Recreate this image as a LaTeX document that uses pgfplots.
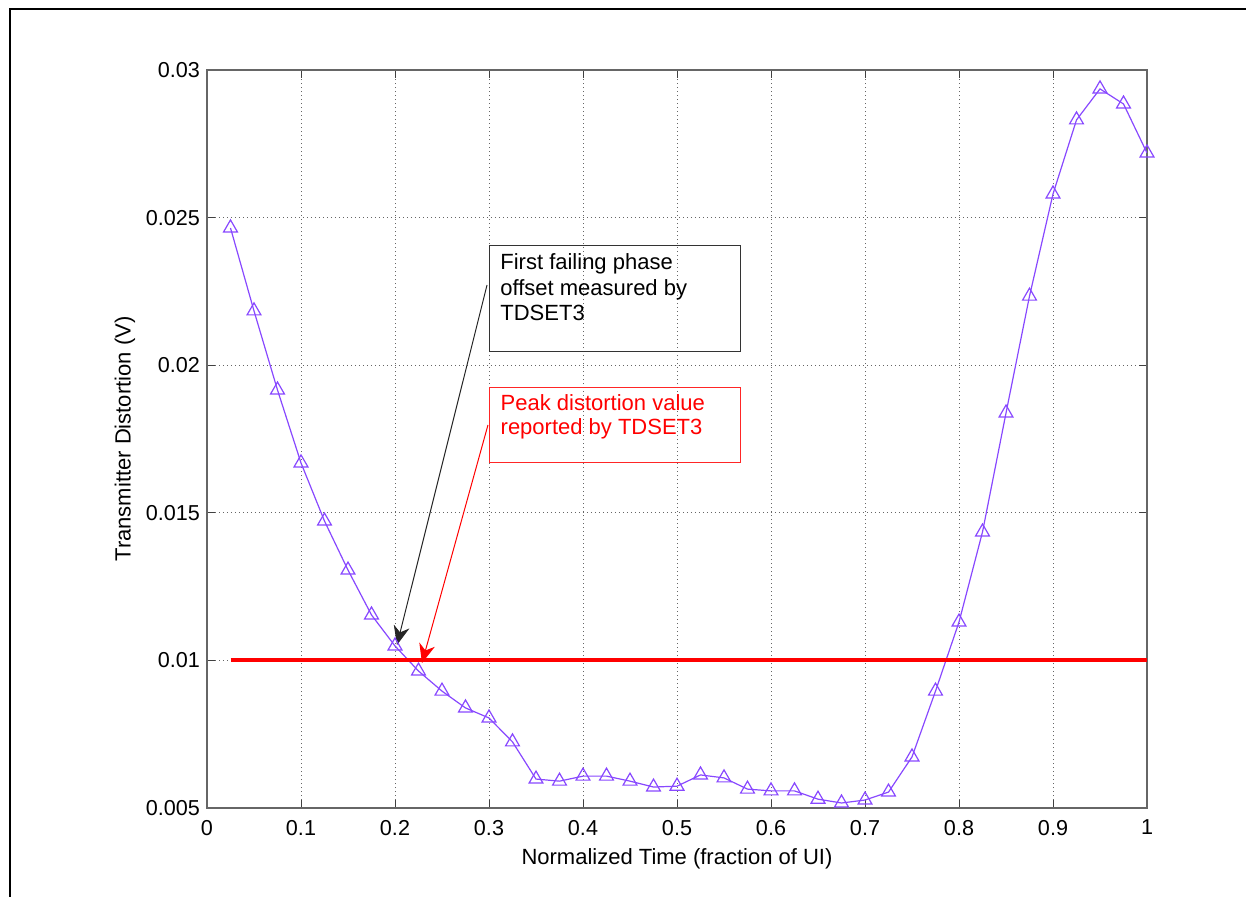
\documentclass[border=0pt]{standalone}
\usepackage{pgfplots}
\pgfplotsset{compat=1.18}
\usepackage{fontspec}
\setmainfont{Liberation Sans}
\usetikzlibrary{arrows.meta}
\definecolor{lineviolet}{RGB}{136,72,255}

\begin{document}
\begin{tikzpicture}
\useasboundingbox (0,0) rectangle (623bp,-448.5bp);
% frame around the figure
\draw[line width=1.1bp] (5bp,-449bp) -- (5bp,-4.5bp) -- (624bp,-4.5bp);

\begin{axis}[
  at={(103.5bp,-404bp)}, anchor=south west,
  scale only axis, width=470bp, height=369bp,
  xmin=0, xmax=1, ymin=0.005, ymax=0.03,
  xtick={0,0.1,0.2,0.3,0.4,0.5,0.6,0.7,0.8,0.9,1},
  xticklabels={0,0.1,0.2,0.3,0.4,0.5,0.6,0.7,0.8,0.9,1},
  ytick={0.005,0.01,0.015,0.02,0.025,0.03},
  yticklabels={0.005,0.01,0.015,0.02,0.025,0.03},
  scaled x ticks=false, scaled y ticks=false,
  tick align=inside, major tick length=4bp,
  tick style={black!75, line width=0.5bp},
  axis line style={black!60, line width=0.6bp},
  grid=major,
  grid style={black!60, line width=0.5bp, dash pattern=on 0.5bp off 1.5bp},
  ticklabel style={font=\fontsize{10.8bp}{12bp}\selectfont},
  xticklabel style={yshift=-2.5bp},
  label style={font=\fontsize{11bp}{12bp}\selectfont},
  xlabel={Normalized Time (fraction of UI)},
  xlabel style={at={(axis description cs:0.5,0)}, anchor=center, yshift=-25.5bp},
  ylabel={Transmitter Distortion (V)},
  ylabel style={at={(axis description cs:-0.0872,0.5)}, anchor=center},
]
\addplot[lineviolet, line width=0.6bp, mark=triangle, mark size=4bp] coordinates {
  (0.025,0.02465) (0.050,0.02184) (0.075,0.01916) (0.100,0.01669)
  (0.125,0.01472) (0.150,0.01306) (0.175,0.01154) (0.200,0.01049)
  (0.225,0.00964) (0.250,0.00896) (0.275,0.00839) (0.300,0.00805)
  (0.325,0.00724) (0.350,0.00598) (0.375,0.00591) (0.400,0.00608)
  (0.425,0.00608) (0.450,0.00591) (0.475,0.00571) (0.500,0.00574)
  (0.525,0.00612) (0.550,0.00602) (0.575,0.00564) (0.600,0.00558)
  (0.625,0.00558) (0.650,0.00530) (0.675,0.00517) (0.700,0.00527)
  (0.725,0.00554) (0.750,0.00673) (0.775,0.00896) (0.800,0.01130)
  (0.825,0.01435) (0.850,0.01838) (0.875,0.02234) (0.900,0.02580)
  (0.925,0.02831) (0.950,0.02936) (0.975,0.02885) (1.000,0.02719)
};
\addplot[red, line width=2bp] coordinates {(0.025,0.01) (1,0.01)};

% annotation boxes
\draw[black!80, line width=0.5bp] (axis cs:0.300,0.02407) rectangle (axis cs:0.568,0.02048);
\draw[red!85, line width=0.5bp] (axis cs:0.300,0.01926) rectangle (axis cs:0.568,0.01669);
\begin{scope}[every node/.style={font=\fontsize{11bp}{12bp}\selectfont, inner sep=0pt, anchor=base west}]
\node at (axis cs:0.3117,0.023259) {First failing phase};
\node at (axis cs:0.3117,0.022378) {offset measured by};
\node at (axis cs:0.3117,0.021531) {TDSET3};
\node[red] at (axis cs:0.312,0.018482) {Peak distortion value};
\node[red] at (axis cs:0.312,0.017636) {reported by TDSET3};
\end{scope}
% arrows
\draw[black!85, line width=0.5bp, -{Stealth[length=9.5bp, width=8bp, inset=3bp]}]
  (axis cs:0.2979,0.022717) -- (axis cs:0.2021,0.010522);
\draw[red, line width=0.5bp, -{Stealth[length=9.5bp, width=8bp, inset=3bp]}]
  (axis cs:0.2989,0.017974) -- (axis cs:0.2287,0.009912);
\end{axis}
\end{tikzpicture}
\end{document}
